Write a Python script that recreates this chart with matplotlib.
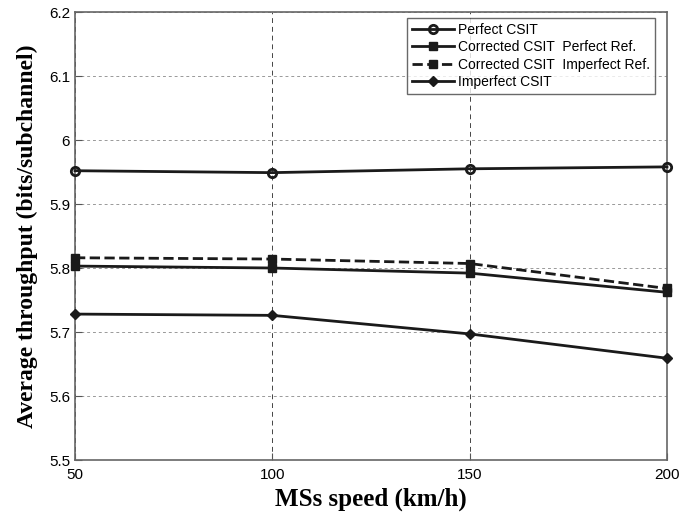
import matplotlib
matplotlib.use("Agg")
import matplotlib.pyplot as plt

speeds = [50, 100, 150, 200]
perfect_csit = [5.952, 5.949, 5.955, 5.958]
corr_perfect_ref = [5.803, 5.800, 5.792, 5.762]
corr_imperfect_ref = [5.816, 5.814, 5.807, 5.768]
imperfect_csit = [5.728, 5.726, 5.697, 5.659]
labels = ["Perfect CSIT", "Corrected CSIT  Perfect Ref.",
          "Corrected CSIT  Imperfect Ref.", "Imperfect CSIT"]

plt.rcParams['font.family'] = ['Liberation Sans', 'DejaVu Sans']
fig = plt.figure(figsize=(6.9, 5.12), dpi=100)
ax = fig.add_axes([75/690, 52/512, 592/690, 448/512])

c = '#1a1a1a'
kw = dict(color=c, lw=2, clip_on=False, zorder=3)
ax.plot(speeds, perfect_csit, '-', marker='o', ms=6, mfc='none', mew=2,
        label=labels[0], **kw)
ax.plot(speeds, corr_perfect_ref, '-', marker='s', ms=6, label=labels[1], **kw)
ax.plot(speeds, corr_imperfect_ref, '--', marker='s', ms=6, label=labels[2], **kw)
ax.plot(speeds, imperfect_csit, '-', marker='D', ms=5, label=labels[3], **kw)

ax.set_xlim(50, 200)
ax.set_ylim(5.5, 6.2)
ax.set_xticks([50, 100, 150, 200])
ax.set_yticks([5.5, 5.6, 5.7, 5.8, 5.9, 6.0, 6.1, 6.2])
ax.set_yticklabels(['5.5', '5.6', '5.7', '5.8', '5.9', '6', '6.1', '6.2'])
ax.tick_params(direction='in', labelsize=11, length=5, color='#555555')
ax.tick_params(axis='x', pad=6)
ax.xaxis.grid(True, linestyle=(0, (5, 4)), color='#444444', lw=0.7)
ax.yaxis.grid(True, linestyle=(0, (3, 3)), color='#999999', lw=0.7)
for s in ax.spines.values():
    s.set_color('#666666')
    s.set_linewidth(1.2)

ax.set_xlabel('MSs speed (km/h)', fontsize=18, fontweight='bold',
              family='Liberation Serif', labelpad=4)
ax.set_ylabel('Average throughput (bits/subchannel)', fontsize=17,
              fontweight='bold', family='Liberation Serif', labelpad=8)

leg = ax.legend(loc='upper right', fontsize=10, frameon=True, fancybox=False,
                edgecolor='#444444', handlelength=3.0, handletextpad=0.3,
                borderpad=0.35, labelspacing=0.25,
                bbox_to_anchor=(1 - 12/592, 1 - 6/448), borderaxespad=0)
leg.get_frame().set_linewidth(1.0)

fig.savefig('out.png', dpi=100)
